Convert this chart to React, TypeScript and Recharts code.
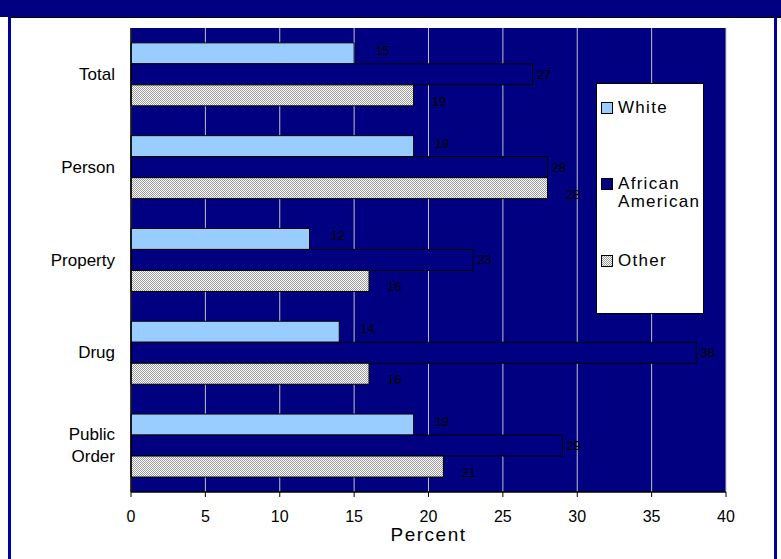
import { BarChart, Bar, XAxis, YAxis, CartesianGrid, Legend, LabelList } from 'recharts'

// ─── Data ─────────────────────────────────────────────────────────────────────

const categories = ['Total', 'Person', 'Property', 'Drug', 'Public Order']
const white = [15, 19, 12, 14, 19]
const africanAmerican = [27, 28, 23, 38, 29]
const other = [19, 28, 16, 16, 21]
const xTicks = [0, 5, 10, 15, 20, 25, 30, 35, 40]

const NAVY = '#000080'
const LIGHT_BLUE = '#99ccff'
const FONT = "Arial, 'Liberation Sans', sans-serif"

const chartData = categories.map((category, i) => ({
  category,
  white: white[i],
  africanAmerican: africanAmerican[i],
  other: other[i],
}))

const legendItems = [
  { key: 'white', lines: ['White'], fill: LIGHT_BLUE, top: 24 },
  { key: 'aa', lines: ['African', 'American'], fill: NAVY, top: 100 },
  { key: 'other', lines: ['Other'], fill: 'url(#otherPattern)', top: 177 },
]

// ─── Helpers ──────────────────────────────────────────────────────────────────

function CategoryTick(props: any) {
  const { x, y, payload } = props
  const words = payload.value === 'Public Order' ? ['Public', 'Order'] : [payload.value]
  const start = -((words.length - 1) * 22) / 2
  return (
    <text x={x - 8} y={y} textAnchor="end" fontSize={17} fontFamily={FONT} fill="#000">
      {words.map((w: string, i: number) => (
        <tspan key={w} x={x - 8} y={y + start + i * 22} dominantBaseline="central">
          {w}
        </tspan>
      ))}
    </text>
  )
}

// value label to the right of the bar end (offsets mimic the original)
const makeLabel = (dx: number, dy: number) => (props: any) => {
  const { x, y, width, height, value } = props
  return (
    <text
      x={x + width + dx}
      y={y + height / 2 + dy}
      dominantBaseline="central"
      fontSize={13}
      fontFamily={FONT}
      fill="#000"
    >
      {value}
    </text>
  )
}

function LegendBox() {
  return (
    <div style={{ position: 'relative', width: 105, height: 228, fontFamily: FONT, fontSize: 17 }}>
      {legendItems.map((item) => (
        <div key={item.key} style={{ position: 'absolute', left: 4, top: item.top }}>
          <svg width={12} height={12} style={{ position: 'absolute', left: 0, top: -6 }}>
            <rect x={0.5} y={0.5} width={11} height={11} fill={item.fill} stroke="#000" />
          </svg>
          {item.lines.map((line, i) => (
            <div
              key={line}
              style={{
                position: 'absolute',
                left: 17,
                top: -10 + i * 18,
                whiteSpace: 'nowrap',
                letterSpacing: 1.3,
                lineHeight: '20px',
                color: '#000',
              }}
            >
              {line}
            </div>
          ))}
        </div>
      ))}
    </div>
  )
}

// ─── Component ────────────────────────────────────────────────────────────────

export default function App() {
  return (
    <div style={{ position: 'absolute', left: 0, top: 0, width: 781, height: 559, background: '#fff', overflow: 'hidden' }}>
      {/* navy frame */}
      <div style={{ position: 'absolute', left: 0, top: 0, width: 781, height: 17, background: NAVY }} />
      <div style={{ position: 'absolute', left: 8, top: 17, width: 773, height: 1, background: '#000' }} />
      <div style={{ position: 'absolute', left: 8, top: 18, width: 3, height: 541, background: '#0000a0' }} />
      <div style={{ position: 'absolute', left: 774, top: 18, width: 3, height: 541, background: '#0000a0' }} />

      <div style={{ position: 'absolute', left: 0, top: 0 }}>
        <BarChart
          width={781}
          height={559}
          data={chartData}
          layout="vertical"
          margin={{ top: 28, right: 55, bottom: 12, left: 0 }}
          barCategoryGap="16%"
          barGap={0}
        >
          <defs>
            <pattern id="otherPattern" width={2} height={2} patternUnits="userSpaceOnUse">
              <rect width={2} height={2} fill="#ffffff" />
              <rect width={1} height={1} fill="#999999" />
              <rect x={1} y={1} width={1} height={1} fill="#999999" />
            </pattern>
          </defs>
          <CartesianGrid horizontal={false} fill={NAVY} stroke="#c0c0c0" />
          <XAxis
            type="number"
            domain={[0, 40]}
            ticks={xTicks}
            interval={0}
            height={55}
            axisLine={{ stroke: '#000', strokeWidth: 1.5 }}
            tickLine={{ stroke: '#000' }}
            tickSize={5}
            tickMargin={14}
            tick={{ fontSize: 16, fontFamily: FONT, fill: '#000' }}
            label={{
              value: 'Percent',
              position: 'insideBottom',
              offset: 6,
              fontSize: 19,
              fontFamily: FONT,
              fill: '#000',
              style: { letterSpacing: 1.5 },
            }}
          />
          <XAxis
            xAxisId="top"
            orientation="top"
            type="number"
            domain={[0, 40]}
            height={0}
            tick={false}
            tickLine={false}
            axisLine={{ stroke: '#a0a0a0' }}
          />
          <YAxis
            type="category"
            dataKey="category"
            width={131}
            axisLine={{ stroke: '#000', strokeWidth: 1.5 }}
            tickLine={false}
            tick={<CategoryTick />}
          />
          <YAxis
            yAxisId="right"
            orientation="right"
            type="category"
            dataKey="category"
            width={0}
            tick={false}
            tickLine={false}
            axisLine={{ stroke: '#808080' }}
          />
          <Legend
            layout="vertical"
            align="center"
            verticalAlign="middle"
            content={<LegendBox />}
            wrapperStyle={{ left: 596, top: 83, width: 106, height: 229, background: '#fff', border: '1px solid #000' }}
          />
          <Bar dataKey="white" name="White" fill={LIGHT_BLUE} stroke="#000" isAnimationActive={false}>
            <LabelList dataKey="white" content={makeLabel(21, -3)} />
          </Bar>
          <Bar dataKey="africanAmerican" name="African American" fill={NAVY} stroke="#000" isAnimationActive={false}>
            <LabelList dataKey="africanAmerican" content={makeLabel(4, 0)} />
          </Bar>
          <Bar dataKey="other" name="Other" fill="url(#otherPattern)" stroke="#000" isAnimationActive={false}>
            <LabelList dataKey="other" content={makeLabel(18, 6)} />
          </Bar>
        </BarChart>
      </div>
    </div>
  )
}
